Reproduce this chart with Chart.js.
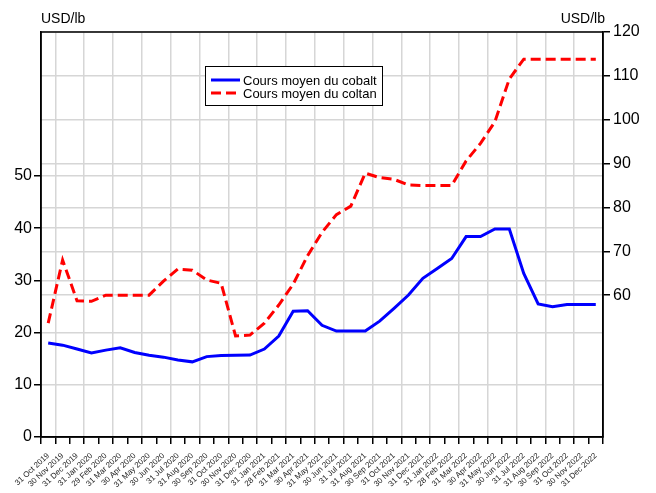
<!DOCTYPE html>
<html>
<head>
<meta charset="utf-8">
<script src="https://cdn.jsdelivr.net/npm/chart.js@4"></script>
<style>
  html, body { margin: 0; padding: 0; background: #fff; }
  canvas { display: block; }
</style>
</head>
<body>
<canvas id="chart" width="656" height="493"></canvas>
<script>
// month-end dates
var labels = [
    '31 Oct 2019', '30 Nov 2019', '31 Dec 2019', '31 Jan 2020', '29 Feb 2020', '31 Mar 2020',
    '30 Apr 2020', '31 May 2020', '30 Jun 2020', '31 Jul 2020', '31 Aug 2020', '30 Sep 2020',
    '31 Oct 2020', '30 Nov 2020', '31 Dec 2020', '31 Jan 2021', '28 Feb 2021', '31 Mar 2021',
    '30 Apr 2021', '31 May 2021', '30 Jun 2021', '31 Jul 2021', '31 Aug 2021', '30 Sep 2021',
    '31 Oct 2021', '30 Nov 2021', '31 Dec 2021', '31 Jan 2022', '28 Feb 2022', '31 Mar 2022',
    '30 Apr 2022', '31 May 2022', '30 Jun 2022', '31 Jul 2022', '31 Aug 2022', '30 Sep 2022',
    '31 Oct 2022', '30 Nov 2022', '31 Dec 2022'
];

// USD/lb, left axis
var cobalt = [
    18.0, 17.6, 16.85, 16.1, 16.65, 17.1, 16.2, 15.65, 15.3, 14.75, 14.4, 15.4, 15.6,
    15.65, 15.7, 16.85, 19.35, 24.1, 24.2, 21.4, 20.3, 20.3, 20.3, 22.2, 24.65, 27.2,
    30.4, 32.3, 34.2, 38.4, 38.4, 39.85, 39.85, 31.35, 25.5, 24.95, 25.4, 25.4, 25.4
];

// USD/lb, right axis
var coltan = [
    53.6, 68.0, 58.7, 58.6, 60.0, 60.0, 60.0, 60.0, 63.2, 65.95, 65.7, 63.45, 62.7,
    50.7, 50.9, 53.6, 57.75, 62.5, 69.0, 74.3, 78.35, 80.3, 87.8, 86.8, 86.4, 85.1,
    85.0, 85.0, 85.0, 90.6, 94.6, 99.55, 109.3, 113.8, 113.8, 113.8, 113.8, 113.8, 113.8
];

var leftTicks = [0, 10, 20, 30, 40, 50];
var rightTicks = [60, 70, 80, 90, 100, 110, 120];

var FONT = '"Liberation Sans", Arial, sans-serif';
var GRID = '#d6d6d6';

// area: left 41, right 603, top 32, bottom 437
var frame = {
    id: 'frame',
    beforeDatasetsDraw: function (chart) {
        var a = chart.chartArea;
        var ctx = chart.ctx;
        ctx.save();
        ctx.strokeStyle = '#000';
        ctx.lineWidth = 1.5;
        ctx.strokeRect(a.left, a.top, a.right - a.left, a.bottom - a.top);
        ctx.restore();
    },
    afterDraw: function (chart) {
        var ctx = chart.ctx;
        var a = chart.chartArea;
        ctx.save();
        ctx.fillStyle = '#000';
        ctx.font = '14px ' + FONT;
        ctx.textBaseline = 'alphabetic';
        ctx.textAlign = 'left';
        ctx.fillText('USD/lb', a.left, 23);
        ctx.textAlign = 'right';
        ctx.fillText('USD/lb', a.right + 2, 23);

        // legend box inside the plot
        var x0 = 205, y0 = 66, w = 177, h = 39;
        ctx.fillStyle = '#fff';
        ctx.fillRect(x0, y0, w, h);
        ctx.strokeStyle = '#000';
        ctx.lineWidth = 1;
        ctx.strokeRect(x0 + 0.5, y0 + 0.5, w, h);
        ctx.font = '13px ' + FONT;
        ctx.textAlign = 'left';
        ctx.textBaseline = 'middle';
        chart.data.datasets.forEach(function (ds, i) {
            var y = y0 + 14 + i * 13;
            ctx.beginPath();
            ctx.strokeStyle = ds.borderColor;
            ctx.lineWidth = 3;
            ctx.setLineDash(ds.borderDash || []);
            ctx.moveTo(x0 + 6, y);
            ctx.lineTo(x0 + 35, y);
            ctx.stroke();
            ctx.setLineDash([]);
            ctx.fillStyle = '#000';
            ctx.fillText(ds.label, x0 + 38, y + 1);
        });
        ctx.restore();
    }
};

new Chart(document.getElementById('chart'), {
    type: 'line',
    data: {
        labels: labels,
        datasets: [{
            label: 'Cours moyen du cobalt',
            data: cobalt,
            yAxisID: 'y',
            borderColor: '#0000ff',
            borderWidth: 3,
            pointRadius: 0,
            tension: 0,
            fill: false
        }, {
            label: 'Cours moyen du coltan',
            data: coltan,
            yAxisID: 'y1',
            borderColor: '#ff0000',
            borderWidth: 3,
            borderDash: [10, 5],
            pointRadius: 0,
            tension: 0,
            fill: false
        }]
    },
    options: {
        responsive: false,
        animation: false,
        devicePixelRatio: 1,
        layout: { padding: { top: 32, left: 0, right: 0, bottom: 0 } },
        plugins: {
            legend: { display: false },
            tooltip: { enabled: false }
        },
        scales: {
            x: {
                offset: true,
                grid: {
                    offset: true,
                    color: function (c) {
                        return (c.index !== undefined && c.index % 2 === 1) ? GRID : 'rgba(0,0,0,0)';
                    },
                    lineWidth: 1.5,
                    tickColor: '#000',
                    tickLength: 7,
                    tickWidth: 1.5
                },
                border: { color: '#000', width: 1.5 },
                ticks: {
                    autoSkip: false,
                    minRotation: 43,
                    maxRotation: 43,
                    padding: 7,
                    color: '#222',
                    font: { family: FONT, size: 8 }
                },
                afterFit: function (axis) { axis.height = 56; }
            },
            y: {
                position: 'left',
                min: 0,
                max: 77.6,
                afterBuildTicks: function (axis) {
                    axis.ticks = leftTicks.map(function (v) { return { value: v }; });
                },
                grid: {
                    color: GRID,
                    lineWidth: 1.5,
                    tickColor: '#000',
                    tickLength: 7,
                    tickWidth: 1.5
                },
                border: { color: '#000', width: 1.5 },
                ticks: {
                    padding: 2,
                    color: '#000',
                    font: { family: FONT, size: 16 }
                },
                afterFit: function (axis) { axis.width = 41; }
            },
            y1: {
                position: 'right',
                min: 27.65,
                max: 120,
                afterBuildTicks: function (axis) {
                    axis.ticks = rightTicks.map(function (v) { return { value: v }; });
                },
                grid: {
                    color: GRID,
                    lineWidth: 1.5,
                    tickColor: '#000',
                    tickLength: 7,
                    tickWidth: 1.5
                },
                border: { color: '#000', width: 1.5 },
                ticks: {
                    padding: 3,
                    color: '#000',
                    font: { family: FONT, size: 16 }
                },
                afterFit: function (axis) { axis.width = 53; }
            }
        }
    },
    plugins: [frame]
});
</script>
</body>
</html>
